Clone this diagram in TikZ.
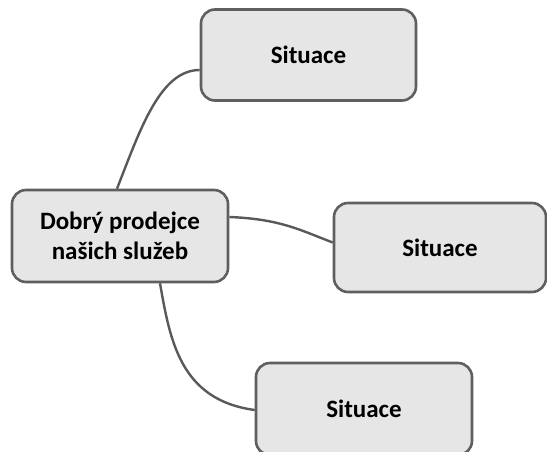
\documentclass[tikz,border=0pt]{standalone}
\usepackage{fontspec}
\setmainfont{Carlito}
\definecolor{boxfill}{HTML}{E6E6E6}
\definecolor{boxline}{HTML}{5F5F5F}
\definecolor{conn}{HTML}{595959}
\begin{document}
\begin{tikzpicture}[x=1pt,y=-1pt,
  topic/.style={draw=boxline, fill=boxfill, line width=2.6pt, rounded corners=14pt,
    align=center, font=\fontsize{25}{30}\selectfont\bfseries, inner sep=0pt},
  link/.style={draw=conn, line width=2.4pt}]
\useasboundingbox (0,0) rectangle (547,452);
\node[topic, minimum width=216pt, minimum height=92pt] (c) at (120,236) {Dobrý prodejce\\našich služeb};
\node[topic, minimum width=215pt, minimum height=91pt] (t) at (308.5,55) {Situace};
\node[topic, minimum width=212pt, minimum height=89pt] (r) at (440,247.5) {Situace};
\node[topic, minimum width=216pt, minimum height=92pt] (b) at (364,409) {Situace};
\coordinate (c1) at ([xshift=-3pt]c.north);
\coordinate (t1) at ([yshift=-15pt]t.west);
\coordinate (c2) at ([yshift=19pt]c.east);
\coordinate (r1) at ([yshift=5pt]r.west);
\coordinate (c3) at ([xshift=40pt]c.south);
\coordinate (b1) at ([yshift=-1pt]b.west);
\draw[link] (c1) .. controls (140,130) and (160,70) .. (t1);
\draw[link] (c2) .. controls (280,219) and (300,230) .. (r1);
\draw[link] (c3) .. controls (170,340) and (180,400) .. (b1);
\end{tikzpicture}
\end{document}
